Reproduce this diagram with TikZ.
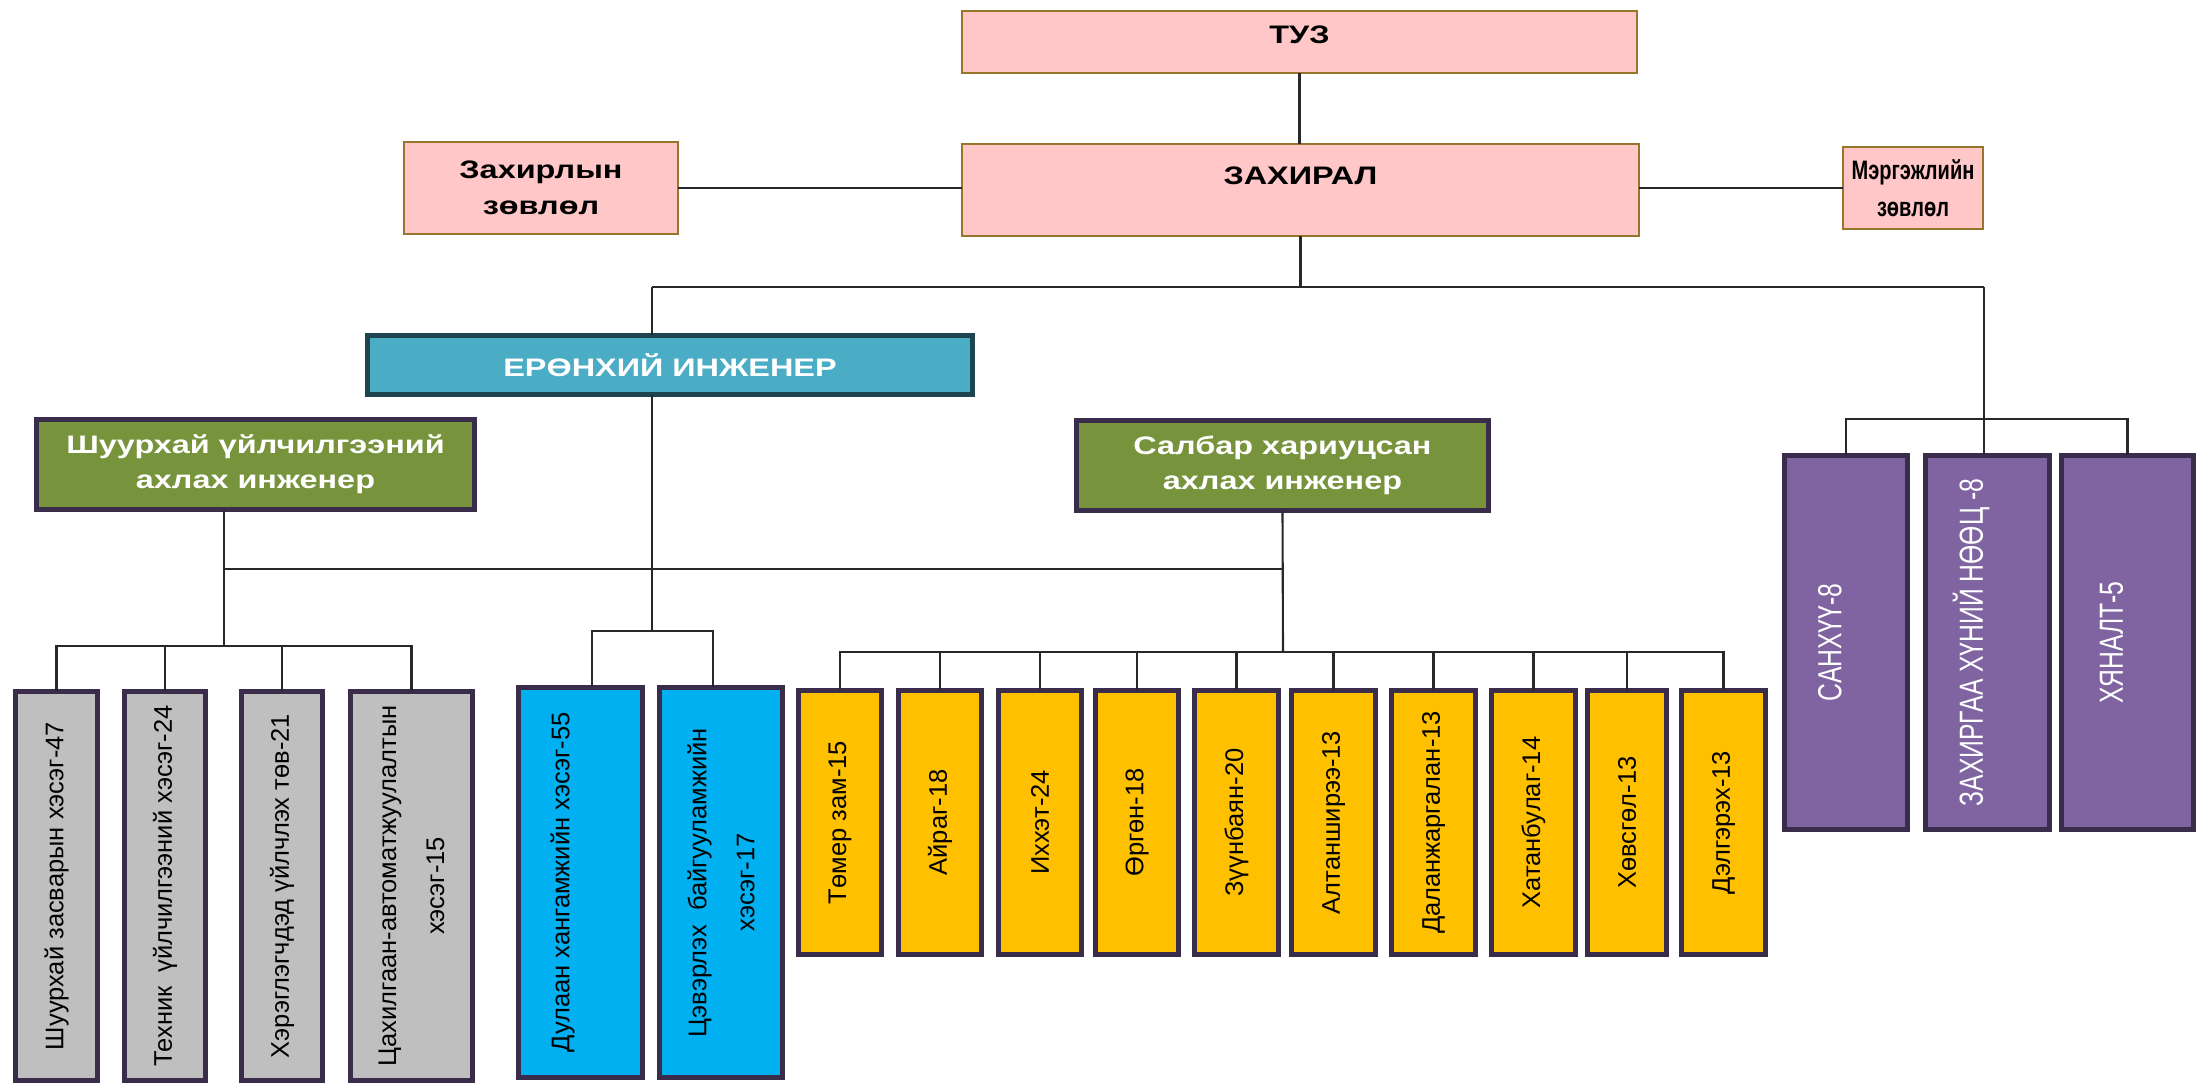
\documentclass[tikz,border=0pt]{standalone}
\usepackage{fontspec}
\setmainfont{Liberation Sans}
\newfontfamily\headfont[FakeStretch=1.28]{Liberation Sans}
\newfontfamily\slimfont[FakeStretch=0.75]{Liberation Sans}
\newfontfamily\narrowfont[FakeStretch=0.74]{Liberation Sans}
\usepackage{tikz}
\definecolor{pinkfill}{RGB}{255,199,199}
\definecolor{pinkline}{RGB}{150,118,45}
\definecolor{tealfill}{RGB}{75,172,198}
\definecolor{tealline}{RGB}{30,68,80}
\definecolor{greenfill}{RGB}{119,147,60}
\definecolor{boxline}{RGB}{58,45,76}
\definecolor{greyfill}{RGB}{191,191,191}
\definecolor{bluefill}{RGB}{0,176,240}
\definecolor{yellowfill}{RGB}{255,192,0}
\definecolor{purplefill}{RGB}{128,100,162}
\definecolor{linkgray}{RGB}{40,40,40}
\tikzset{%
  >=latex,
  inner sep=0pt,%
  outer sep=0pt,%
  link/.style={draw=linkgray,line width=0.6pt},%
  pink box/.style={draw=pinkline,fill=pinkfill,line width=0.6pt,align=center,
    font=\headfont\bfseries\fontsize{7.2}{10.3}\selectfont},%
  head box/.style={draw=boxline,line width=1.4pt,align=center,text=white,
    font=\headfont\bfseries\fontsize{7.2}{10}\selectfont},%
  unit box/.style={draw=boxline,line width=1.5pt,rotate=90,align=center,
    font=\fontsize{7.25}{13.7}\selectfont},%
  staff box/.style={draw=boxline,fill=purplefill,line width=1.5pt,rotate=90,
    text=white,font=\narrowfont\fontsize{9.5}{12}\selectfont,
    minimum width=3.74cm,text height=6.9pt,text depth=9.5pt}%
}
\begin{document}
\begin{tikzpicture}[x=0.01cm,y=-0.01cm]
\useasboundingbox (0,0) rectangle (2196,1084);

% board and director
\node[pink box,minimum width=6.75cm,minimum height=0.62cm,text height=5pt,text depth=4.4pt] (tuz) at (1299.5,42) {ТУЗ};
\node[pink box,minimum width=6.77cm,minimum height=0.92cm,text height=5pt,text depth=7.85pt] (dir) at (1300.5,190) {ЗАХИРАЛ};
\node[pink box,minimum width=2.74cm,minimum height=0.92cm] (council) at (541,188) {Захирлын\\зөвлөл};
\node[pink box,minimum width=1.4cm,minimum height=0.82cm,
  font=\slimfont\bfseries\fontsize{7.6}{10.5}\selectfont] (prof) at (1913,188) {Мэргэжлийн\\зөвлөл};

% engineers
\node[head box,draw=tealline,fill=tealfill,minimum width=6.05cm,minimum height=0.59cm] (chief) at (670,365) {ЕРӨНХИЙ ИНЖЕНЕР};
\node[head box,fill=greenfill,minimum width=4.38cm,minimum height=0.9cm] (ops) at (255.5,464.5) {Шуурхай үйлчилгээний\\ахлах инженер};
\node[head box,fill=greenfill,minimum width=4.12cm,minimum height=0.9cm] (branch) at (1282.5,465.5) {Салбар хариуцсан\\ахлах инженер};

% grey units
\node[unit box,fill=greyfill,minimum width=3.89cm,minimum height=0.82cm] (repair) at (56.5,886) {Шуурхай засварын хэсэг-47};
\node[unit box,fill=greyfill,minimum width=3.89cm,minimum height=0.81cm] (service) at (165,886) {Техник~ үйлчилгээний хэсэг-24};
\node[unit box,fill=greyfill,minimum width=3.89cm,minimum height=0.81cm] (custserv) at (282,886) {Хэрэглэгчдэд үйлчлэх төв-21};
\node[unit box,fill=greyfill,minimum width=3.89cm,minimum height=1.22cm] (autom) at (411.5,886) {Цахилгаан-автоматжуулалтын\\хэсэг-15};

% blue units
\node[unit box,fill=bluefill,minimum width=3.9cm,minimum height=1.24cm,text height=5.4pt,text depth=11.7pt] (heat) at (580.5,882.5) {Дулаан хангамжийн хэсэг-55};
\node[unit box,fill=bluefill,minimum width=3.9cm,minimum height=1.23cm] (clean) at (721,882.5) {Цэвэрлэх~ байгууламжийн\\хэсэг-17};

% branches
\node[unit box,fill=yellowfill,minimum width=2.64cm,minimum height=0.83cm] (temer) at (840,822.5) {Төмер зам-15};
\node[unit box,fill=yellowfill,minimum width=2.64cm,minimum height=0.83cm] (airag) at (940,822.5) {Айраг-18};
\node[unit box,fill=yellowfill,minimum width=2.64cm,minimum height=0.83cm] (ikhhet) at (1040,822.5) {Иххэт-24};
\node[unit box,fill=yellowfill,minimum width=2.64cm,minimum height=0.83cm] (urgun) at (1137,822.5) {Өргөн-18};
\node[unit box,fill=yellowfill,minimum width=2.64cm,minimum height=0.84cm] (zuunbayan) at (1236.5,822.5) {Зүүнбаян-20};
\node[unit box,fill=yellowfill,minimum width=2.64cm,minimum height=0.84cm] (altanshiree) at (1333.5,822.5) {Алтанширээ-13};
\node[unit box,fill=yellowfill,minimum width=2.64cm,minimum height=0.84cm] (dalan) at (1433.5,822.5) {Даланжаргалан-13};
\node[unit box,fill=yellowfill,minimum width=2.64cm,minimum height=0.84cm] (khatan) at (1533.5,822.5) {Хатанбулаг-14};
\node[unit box,fill=yellowfill,minimum width=2.64cm,minimum height=0.79cm] (khuvsgul) at (1627,822.5) {Хөвсгөл-13};
\node[unit box,fill=yellowfill,minimum width=2.64cm,minimum height=0.84cm] (delgerekh) at (1723.5,822.5) {Дэлгэрэх-13};

% staff units
\node[staff box,minimum height=1.23cm] (fin) at (1846,642.5) {САНХҮҮ-8};
\node[staff box,minimum height=1.24cm] (hr) at (1987.5,642.5) {ЗАХИРГАА ХҮНИЙ НӨӨЦ -8};
\node[staff box,minimum height=1.32cm] (audit) at (2127.5,642.5) {ХЯНАЛТ-5};

\coordinate (chiefin) at (652,287);
\coordinate (staffin) at (1984,287);
\coordinate (staffbus) at (1984,419);
\coordinate (bluebus) at (652,631);
\coordinate (heatin) at (592,631);
\coordinate (cleanin) at (713,631);
\coordinate (opsout) at (224,569);
\coordinate (branchout) at (1283,569);
\coordinate (greybus) at (224,646);
\coordinate (yellowbus) at (1283,652);

\draw[link] (tuz.south) -- (tuz.south |- dir.north);
\draw[link] (council.east) -- (council.east -| dir.west);
\draw[link] (prof.west -| dir.east) -- (prof.west);
\draw[link] (dir.south) -- (dir.south |- chiefin);
\draw[link] (chiefin) -- (staffin);
\draw[link] (chiefin) -- (chiefin |- chief.north);
\draw[link] (staffin) -- (staffbus);
\draw[link] (fin.east) |- (audit.east |- staffbus) -- (audit.east);
\draw[link] (staffbus) -- (staffbus |- hr.east);

\draw[link] (chiefin |- chief.south) -- (bluebus);
\draw[link] (heatin |- heat.east) -- (heatin) -- (cleanin) -- (cleanin |- clean.east);

\draw[link] (opsout |- ops.south) -- (greybus);
\draw[link] (opsout) -- (branchout);
\draw[link] (branch.south) -- (yellowbus);
\draw[link] (repair.east) |- (autom.east |- greybus) -- (autom.east);
\draw[link] (service.east) -- (service.east |- greybus);
\draw[link] (custserv.east) -- (custserv.east |- greybus);

\draw[link] (temer.east) |- (delgerekh.east |- yellowbus) -- (delgerekh.east);
\draw[link] (airag.east) -- (airag.east |- yellowbus);
\draw[link] (ikhhet.east) -- (ikhhet.east |- yellowbus);
\draw[link] (urgun.east) -- (urgun.east |- yellowbus);
\draw[link] (zuunbayan.east) -- (zuunbayan.east |- yellowbus);
\draw[link] (altanshiree.east) -- (altanshiree.east |- yellowbus);
\draw[link] (dalan.east) -- (dalan.east |- yellowbus);
\draw[link] (khatan.east) -- (khatan.east |- yellowbus);
\draw[link] (khuvsgul.east) -- (khuvsgul.east |- yellowbus);
\end{tikzpicture}
\end{document}
